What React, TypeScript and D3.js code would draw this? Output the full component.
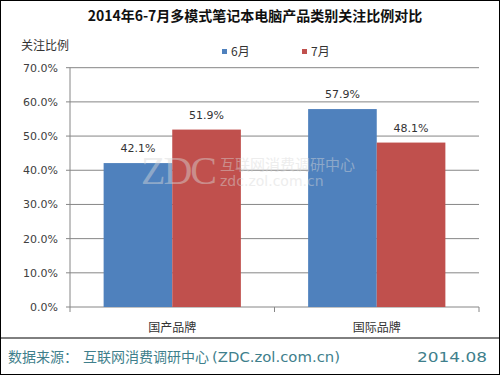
import React from "react";
import * as d3 from "d3";

const categories = ["国产品牌", "国际品牌"];
const seriesNames = ["6月", "7月"];
const june = [42.1, 57.9];
const july = [51.9, 48.1];
const colors = ["#4f81bd", "#c0504d"];
const yTicks = [0, 10, 20, 30, 40, 50, 60, 70];

export default function App() {
  const W = 500, H = 375;
  const left = 70, right = 479, top = 67.7, bottom = 307;
  const x = d3.scaleBand<string>().domain(categories).range([left, right]).paddingInner(0).paddingOuter(0);
  const x1 = d3.scaleBand<string>().domain(seriesNames).range([0, x.bandwidth()]).paddingInner(0).paddingOuter(0.49);
  const y = d3.scaleLinear().domain([0, 70]).range([bottom, top]);
  const series = [june, july];
  const font = "'DejaVu Sans', sans-serif";
  const cjk = "'Noto Sans CJK SC', sans-serif";
  return (
    <svg width={W} height={H} style={{ position: "absolute", left: 0, top: 0, display: "block" }}>
      <rect x={0} y={0} width={W} height={H} fill="#fff" />
      <text x={255} y={21} textAnchor="middle" fontFamily={cjk} fontWeight="bold" fontSize={14} fill="#111">
        2014年6-7月多模式笔记本电脑产品类别关注比例对比
      </text>
      <text x={21} y={50} fontFamily={cjk} fontSize={12} fill="#333">关注比例</text>
      {seriesNames.map((s, i) => (
        <g key={s} transform={`translate(${i === 0 ? 222 : 302},0)`}>
          <rect x={0} y={49} width={5} height={5} fill={colors[i]} />
          <text x={9} y={56} fontFamily={cjk} fontSize={12} fill="#333">{s}</text>
        </g>
      ))}
      {yTicks.map((t) => (
        <g key={t}>
          <line x1={left - 4} x2={right} y1={y(t)} y2={y(t)} stroke="#868686" strokeWidth={1} />
          <text x={58} y={y(t) + 4} textAnchor="end" fontFamily={font} fontSize={11} fill="#404040">
            {t.toFixed(1)}%
          </text>
        </g>
      ))}
      <line x1={left} x2={left} y1={top} y2={bottom} stroke="#868686" />
      {[left, (left + right) / 2, right].map((tx, i) => (
        <line key={i} x1={tx} x2={tx} y1={bottom} y2={bottom + 5} stroke="#868686" />
      ))}
      {categories.map((c, ci) => (
        <g key={c}>
          {series.map((vals, si) => {
            const bx = (x(c) as number) + (x1(seriesNames[si]) as number);
            const bw = x1.bandwidth();
            return (
              <g key={si}>
                <rect x={bx} y={y(vals[ci])} width={bw} height={bottom - y(vals[ci])} fill={colors[si]} />
                <text x={bx + bw / 2} y={y(vals[ci]) - 11} textAnchor="middle" fontFamily={font} fontSize={11} fill="#333">
                  {vals[ci].toFixed(1)}%
                </text>
              </g>
            );
          })}
          <text x={(x(c) as number) + x.bandwidth() / 2} y={332} textAnchor="middle" fontFamily={cjk} fontSize={12} fill="#333">
            {c}
          </text>
        </g>
      ))}
      <g opacity={0.45} fill="#d8d8d8">
        <text x={141} y={184} fontFamily="'Liberation Serif', serif" fontSize={40} style={{ letterSpacing: "-2px" }}>ZDC</text>
        <text x={220} y={170} fontFamily={cjk} fontSize={15}>互联网消费调研中心</text>
        <text x={220} y={186} fontFamily={font} fontSize={14}>zdc.zol.com.cn</text>
      </g>
      <line x1={0} x2={W} y1={338} y2={338} stroke="#000" strokeWidth={1} />
      <text x={8} y={362} fontFamily={cjk} fontSize={14} fill="#3f7f8c">
        数据来源：
      </text>
      <text x={83} y={362} fontFamily={cjk} fontSize={14} fill="#3f7f8c">
        互联网消费调研中心
      </text>
      <text x={212} y={362} fontFamily={font} fontSize={14} fill="#3f7f8c" textLength={128} lengthAdjust="spacingAndGlyphs">
        (ZDC.zol.com.cn)
      </text>
      <text x={417} y={362} fontFamily={font} fontSize={14} fill="#3f7f8c" textLength={70} lengthAdjust="spacingAndGlyphs">2014.08</text>
      <rect x={0.5} y={0.5} width={W - 1} height={H - 1} fill="none" stroke="#000" strokeWidth={1} />
    </svg>
  );
}
